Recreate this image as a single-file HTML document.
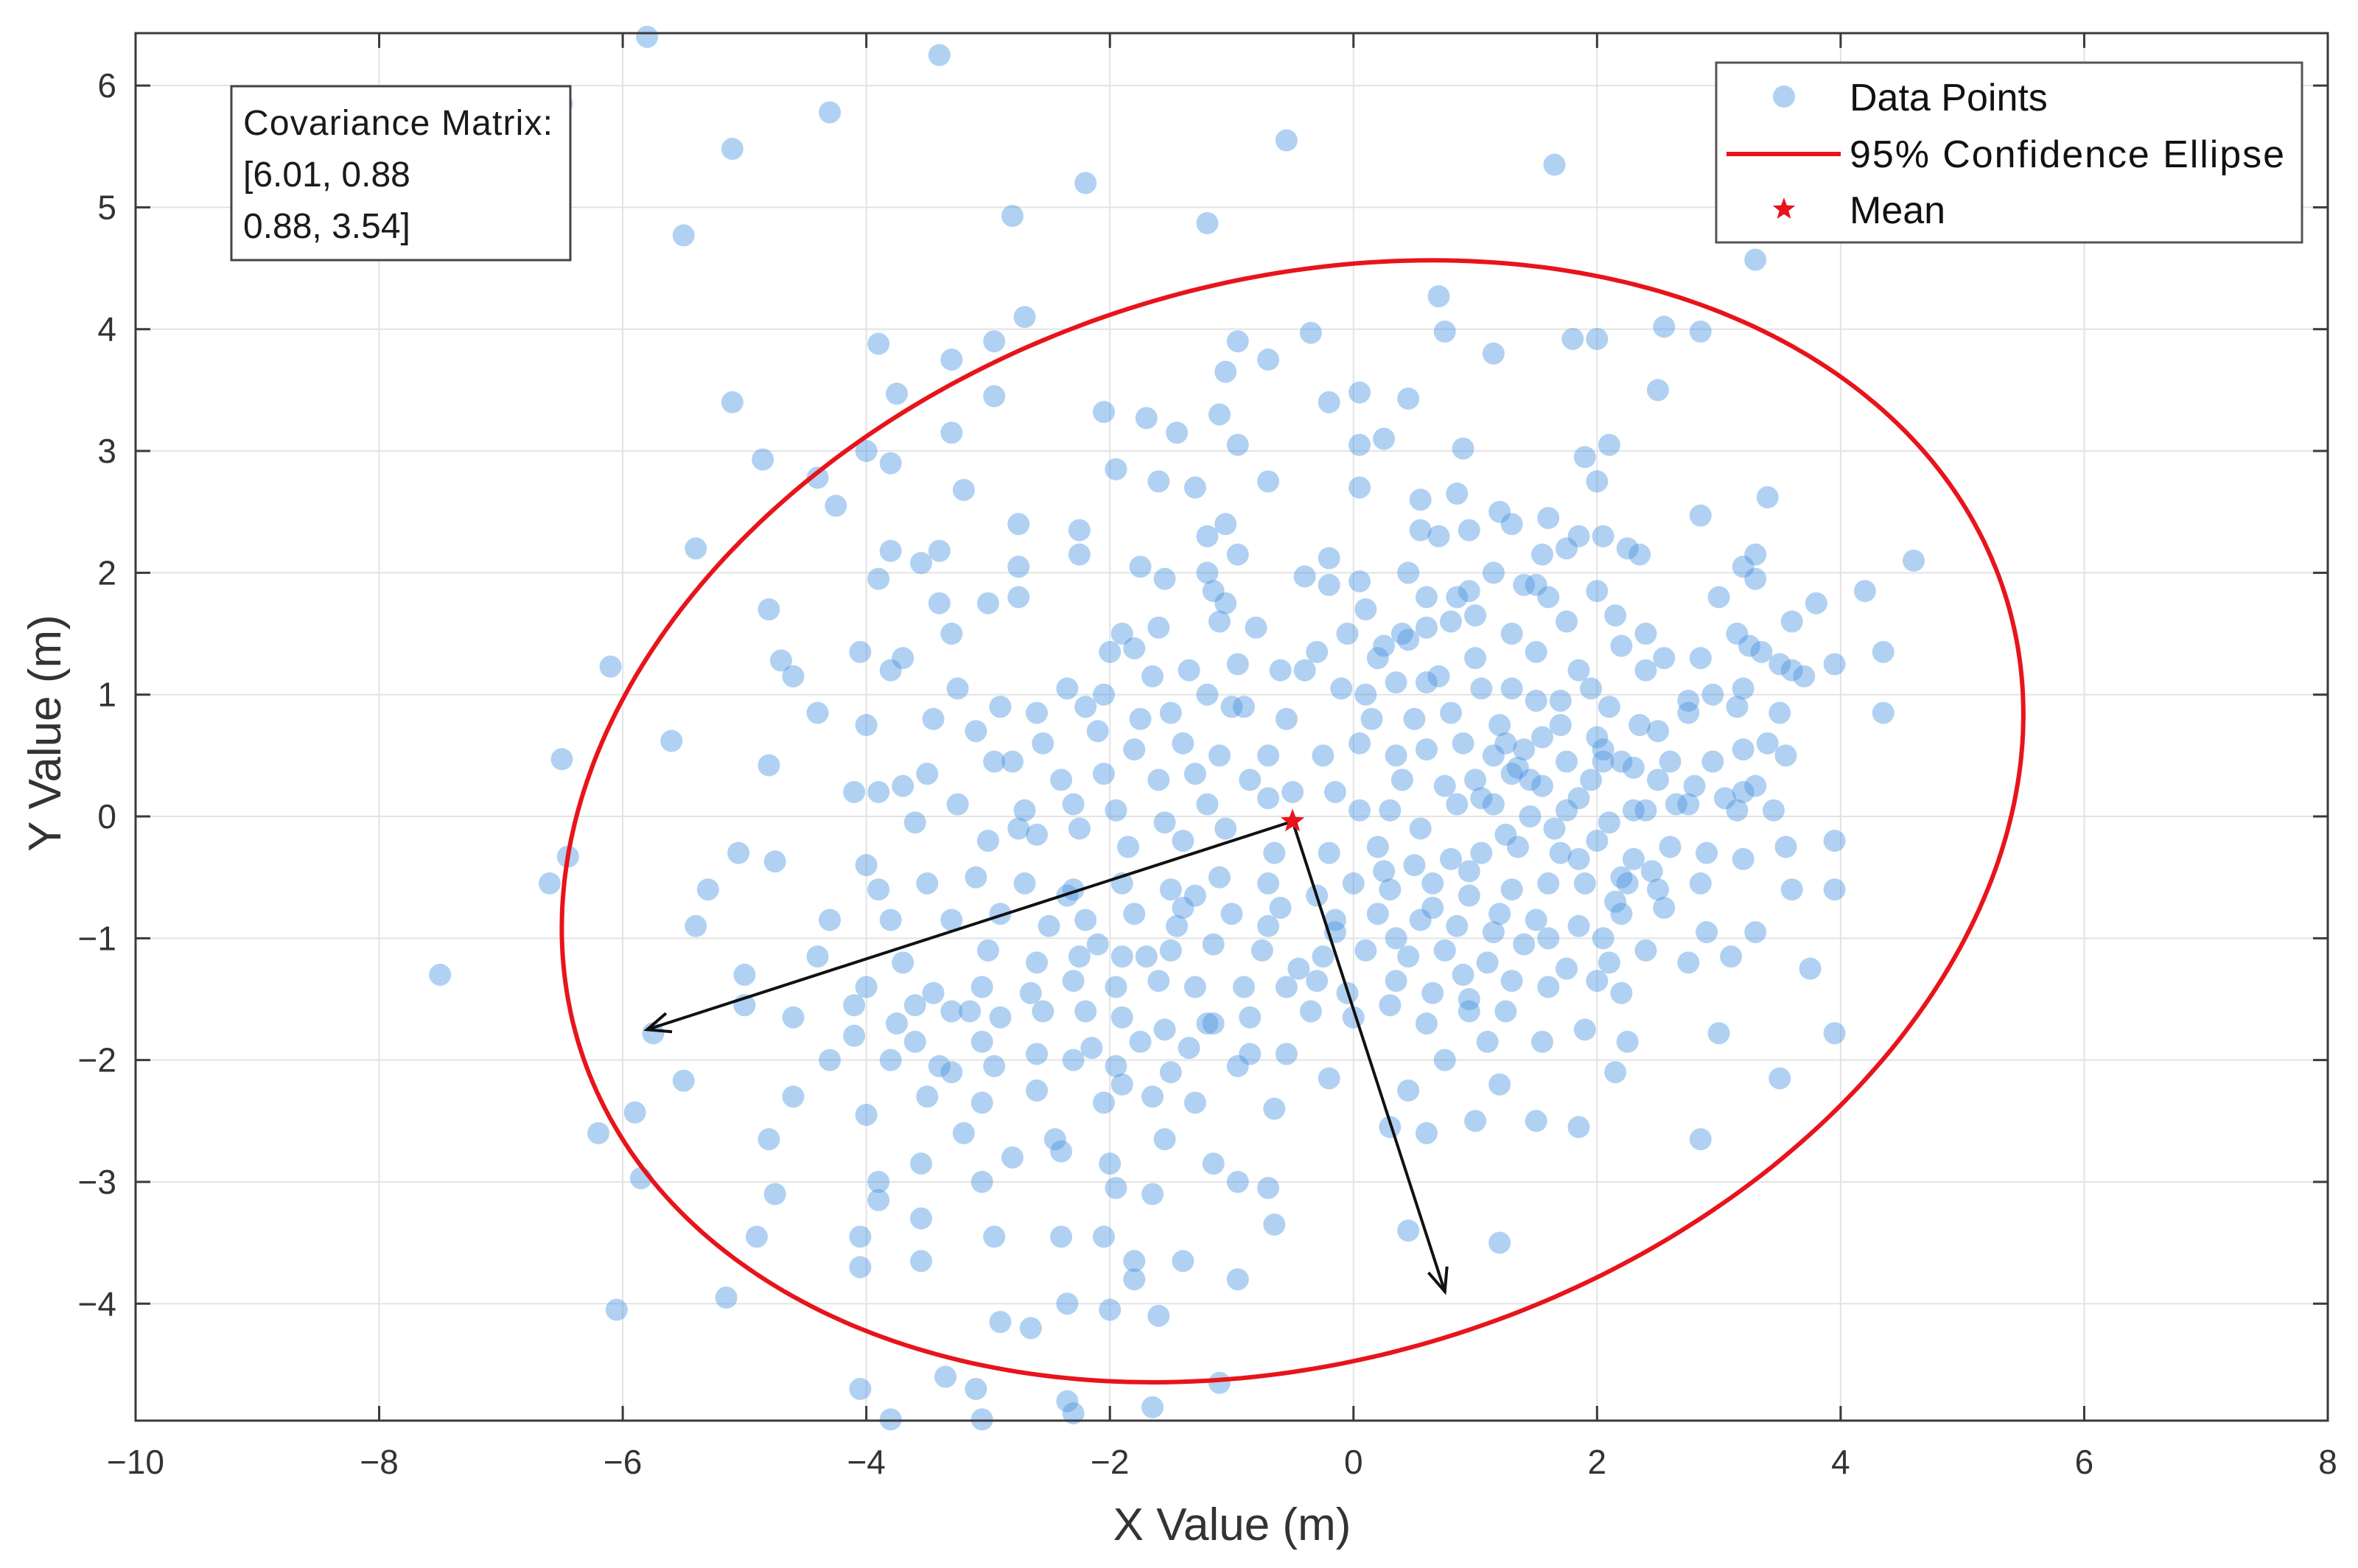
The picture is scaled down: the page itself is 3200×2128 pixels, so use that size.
<!DOCTYPE html>
<html><head><meta charset="utf-8"><style>
html,body{margin:0;padding:0;background:#fff;}
svg{display:block;font-family:"Liberation Sans",Arial,sans-serif;}
</style></head>
<body>
<svg id="chart" width="3200" height="2128" viewBox="0 0 3200 2128" xmlns="http://www.w3.org/2000/svg">
<rect x="0" y="0" width="3200" height="2128" fill="#fff"/>
<g id="grid"></g>
<g id="points"></g>
<g id="overlay"></g>
<g id="axes"></g>
<g id="annot"></g>
</svg>
<script>
const xTicks=[-10,-8,-6,-4,-2,0,2,4,6,8];
const yTicks=[-4,-3,-2,-1,0,1,2,3,4,5,6];
const meanPt=[-0.5,-0.04];
const covMatrix=[[6.01,0.88],[0.88,3.54]];
const chi2Val=5.991;
const vecEnds=[[-5.8,-1.75],[0.75,-3.9]];
const ptX=[-5.8,-3.4,-4.3,-6.5,-5.1,-0.55,-2.2,1.65,-5.5,-1.2,-2.8,3.3,0.7,-2.7,-3.9,-0.95,-0.35,0.75,1.15,1.8,2.0,2.55,2.85,-3.3,-2.95,-0.7,-1.05,-3.75,-5.1,-2.95,-0.2,0.05,0.45,2.5,-2.05,-1.7,-1.45,-1.1,-3.3,-4.0,-0.95,0.05,0.25,0.9,1.9,2.1,-4.85,-3.8,-1.95,-1.6,-1.3,-0.7,0.05,2.0,-4.4,-3.2,-4.25,0.85,0.55,3.4,-2.75,-2.25,-1.2,-1.05,0.55,0.7,1.2,1.3,1.6,1.85,2.05,2.85,-5.4,-3.8,-3.4,-2.25,-0.95,-0.2,1.55,1.75,2.25,2.35,3.3,4.6,-3.55,-2.75,-1.75,-1.2,-0.4,0.05,1.15,1.4,3.2,3.3,-3.9,-1.55,-0.2,-4.8,-3.4,-3.0,-2.75,-1.15,-0.8,0.6,0.85,0.95,1.6,2.0,3.0,3.6,3.8,4.2,-1.9,-1.6,-1.05,0.1,0.4,0.6,0.8,1.0,1.3,1.75,2.4,3.15,3.35,-3.3,-2.0,-1.8,-1.1,-0.3,0.25,0.45,1.0,1.5,1.85,2.2,2.55,2.85,3.25,3.5,3.7,3.95,4.35,-6.1,-4.7,-4.05,-3.7,-3.8,-2.35,-2.05,-1.65,-1.35,-1.2,-0.95,-0.6,-0.1,0.1,0.35,0.7,1.05,1.3,1.5,1.95,2.1,2.4,2.75,2.95,3.2,3.6,-4.6,-4.4,-3.25,-2.9,-2.6,-2.2,-1.75,-1.5,-0.9,-0.55,0.15,0.5,0.8,1.2,1.7,2.0,2.5,2.75,3.15,3.5,4.35,-5.6,-4.0,-3.45,-3.1,-2.95,-2.55,-2.1,-1.8,-1.4,-1.1,-0.7,-0.25,0.05,0.35,0.6,0.9,1.15,1.4,1.75,2.05,2.3,2.6,2.95,3.2,3.4,3.55,-6.5,-4.8,-3.5,-2.8,-2.4,-2.05,-1.6,-1.3,-0.85,-0.5,-0.15,0.4,0.75,1.0,1.3,1.55,1.95,2.2,2.5,3.05,3.3,-4.1,-3.9,-3.7,-3.25,-2.7,-2.3,-1.95,-1.55,-1.2,-0.7,0.05,0.3,0.55,0.85,1.15,1.45,1.75,2.1,2.4,2.75,3.15,3.45,-6.45,-5.05,-4.75,-4.0,-3.6,-3.0,-2.6,-2.25,-1.85,-1.4,-1.05,-0.65,-0.2,0.2,0.5,0.8,1.05,1.35,1.7,2.0,2.3,2.6,2.9,3.2,3.55,3.95,-6.6,-5.3,-3.9,-3.5,-3.1,-2.7,-2.3,-1.9,-1.5,-1.1,-0.7,-0.3,0.0,0.3,0.65,0.95,1.3,1.6,1.9,2.2,2.5,2.85,3.6,3.95,-5.4,-4.3,-3.8,-3.3,-2.9,-2.5,-2.2,-1.8,-1.4,-1.0,-0.6,-0.15,0.2,0.55,0.85,1.2,1.5,1.85,2.2,2.55,2.9,3.3,-4.4,-3.7,-3.0,-2.6,-2.25,-1.9,-1.5,-1.15,-0.75,-0.25,0.1,0.45,0.75,1.1,1.4,1.75,2.1,2.4,2.75,3.1,3.75,-7.5,-5.0,-4.0,-3.45,-3.05,-2.65,-2.3,-1.95,-1.6,-1.3,-0.9,-0.55,-0.05,0.35,0.65,0.95,1.3,1.6,2.0,2.2,-5.0,-4.6,-4.1,-3.75,-3.3,-2.9,-2.55,-2.2,-1.9,-1.55,-1.15,-0.85,-0.35,0.0,0.3,0.6,0.95,1.25,1.55,1.9,2.25,3.0,3.95,-5.75,-4.1,-3.6,-3.05,-2.6,-2.15,-1.75,-1.35,-0.95,-0.55,-4.3,-3.8,-3.3,-2.95,-2.3,-1.95,-1.5,-0.2,0.75,1.1,2.15,-5.5,-4.6,-4.0,-3.5,-3.05,-2.6,-2.05,-1.65,-1.3,-0.65,0.45,1.2,3.5,-6.2,-5.9,-4.8,-3.2,-2.8,-2.4,-2.0,-1.55,-1.15,0.3,0.6,1.0,1.5,1.85,2.85,-5.85,-4.75,-3.9,-3.55,-3.05,-1.95,-1.65,-0.7,-3.9,-3.55,-2.95,-2.4,-2.05,-0.95,-4.05,-0.65,-4.9,1.2,0.45,-4.05,-3.55,-1.8,-1.4,-0.95,-1.8,-5.15,-6.05,-2.35,-2.0,-1.6,-2.9,-2.65,-1.1,-4.05,-2.35,-1.65,-3.1,-3.35,-3.8,-3.05,-2.3,2.05,1.6,-0.7,
1.35,1.45,1.05,1.25,0.95,1.65,1.85,2.3,2.45,2.15,1.15,0.65,0.35,0.9,1.55,2.05,2.65,2.25,1.85,0.25,-0.15,-0.3,-1.3,-1.7,-1.45,-1.2,-0.85,-0.45,-2.35,-2.75,-3.15,-2.1,-1.9,-2.45,-3.4,-3.6,-1.0,-0.4,0.2,0.6,1.25,1.7,2.35,2.8,3.2,2.15,1.5,0.95,0.45,-0.05];
const ptY=[6.4,6.25,5.78,5.85,5.48,5.55,5.2,5.35,4.77,4.87,4.93,4.57,4.27,4.1,3.88,3.9,3.97,3.98,3.8,3.92,3.92,4.02,3.98,3.75,3.9,3.75,3.65,3.47,3.4,3.45,3.4,3.48,3.43,3.5,3.32,3.27,3.15,3.3,3.15,3.0,3.05,3.05,3.1,3.02,2.95,3.05,2.93,2.9,2.85,2.75,2.7,2.75,2.7,2.75,2.78,2.68,2.55,2.65,2.6,2.62,2.4,2.35,2.3,2.4,2.35,2.3,2.5,2.4,2.45,2.3,2.3,2.47,2.2,2.18,2.18,2.15,2.15,2.12,2.15,2.2,2.2,2.15,2.15,2.1,2.08,2.05,2.05,2.0,1.97,1.93,2.0,1.9,2.05,1.95,1.95,1.95,1.9,1.7,1.75,1.75,1.8,1.85,1.55,1.8,1.8,1.85,1.8,1.85,1.8,1.6,1.75,1.85,1.5,1.55,1.75,1.7,1.5,1.55,1.6,1.65,1.5,1.6,1.5,1.5,1.35,1.5,1.35,1.38,1.6,1.35,1.4,1.45,1.3,1.35,1.2,1.4,1.3,1.3,1.4,1.25,1.15,1.25,1.35,1.23,1.28,1.35,1.3,1.2,1.05,1.0,1.15,1.2,1.0,1.25,1.2,1.05,1.0,1.1,1.15,1.05,1.05,0.95,1.05,0.9,1.2,0.95,1.0,1.05,1.2,1.15,0.85,1.05,0.9,0.85,0.9,0.8,0.85,0.9,0.8,0.8,0.8,0.85,0.75,0.75,0.65,0.7,0.85,0.9,0.85,0.85,0.62,0.75,0.8,0.7,0.45,0.6,0.7,0.55,0.6,0.5,0.5,0.5,0.6,0.5,0.55,0.6,0.5,0.55,0.45,0.55,0.4,0.45,0.45,0.55,0.6,0.5,0.47,0.42,0.35,0.45,0.3,0.35,0.3,0.35,0.3,0.2,0.2,0.3,0.25,0.3,0.35,0.25,0.3,0.45,0.3,0.15,0.25,0.2,0.2,0.25,0.1,0.05,0.1,0.05,-0.05,0.1,0.15,0.05,0.05,-0.1,0.1,0.1,0.0,0.05,-0.05,0.05,0.1,0.05,0.05,-0.33,-0.3,-0.37,-0.4,-0.05,-0.2,-0.15,-0.1,-0.25,-0.2,-0.1,-0.3,-0.3,-0.25,-0.4,-0.35,-0.3,-0.25,-0.3,-0.2,-0.35,-0.25,-0.3,-0.35,-0.25,-0.2,-0.55,-0.6,-0.6,-0.55,-0.5,-0.55,-0.6,-0.55,-0.6,-0.5,-0.55,-0.65,-0.55,-0.6,-0.55,-0.65,-0.6,-0.55,-0.55,-0.5,-0.6,-0.55,-0.6,-0.6,-0.9,-0.85,-0.85,-0.85,-0.8,-0.9,-0.85,-0.8,-0.75,-0.8,-0.75,-0.85,-0.8,-0.85,-0.9,-0.8,-0.85,-0.9,-0.8,-0.75,-0.95,-0.95,-1.15,-1.2,-1.1,-1.2,-1.15,-1.15,-1.1,-1.05,-1.1,-1.15,-1.1,-1.15,-1.1,-1.2,-1.05,-1.25,-1.2,-1.1,-1.2,-1.15,-1.25,-1.3,-1.3,-1.4,-1.45,-1.4,-1.45,-1.35,-1.4,-1.35,-1.4,-1.4,-1.4,-1.45,-1.35,-1.45,-1.5,-1.35,-1.4,-1.35,-1.45,-1.55,-1.65,-1.55,-1.7,-1.6,-1.65,-1.6,-1.6,-1.65,-1.75,-1.7,-1.65,-1.6,-1.65,-1.55,-1.7,-1.6,-1.6,-1.85,-1.75,-1.85,-1.78,-1.78,-1.78,-1.8,-1.85,-1.85,-1.95,-1.9,-1.85,-1.9,-2.05,-1.95,-2.0,-2.0,-2.1,-2.05,-2.0,-2.05,-2.1,-2.15,-2.0,-1.85,-2.1,-2.17,-2.3,-2.45,-2.3,-2.35,-2.25,-2.35,-2.3,-2.35,-2.4,-2.25,-2.2,-2.15,-2.6,-2.43,-2.65,-2.6,-2.8,-2.75,-2.85,-2.65,-2.85,-2.55,-2.6,-2.5,-2.5,-2.55,-2.65,-2.97,-3.1,-3.0,-2.85,-3.0,-3.05,-3.1,-3.05,-3.15,-3.3,-3.45,-3.45,-3.45,-3.0,-3.45,-3.35,-3.45,-3.5,-3.4,-3.7,-3.65,-3.65,-3.65,-3.8,-3.8,-3.95,-4.05,-4.0,-4.05,-4.1,-4.15,-4.2,-4.65,-4.7,-4.8,-4.85,-4.7,-4.6,-4.95,-4.95,-4.9,-1.0,-1.0,-0.9,
0.4,0.3,0.15,-0.15,-0.45,-0.1,0.15,0.05,-0.45,-0.7,-0.95,-0.75,-1.0,-1.3,0.65,0.45,0.1,-0.55,-0.35,-0.45,-0.95,-1.35,-0.65,-1.15,-0.9,-1.7,-1.95,-1.25,-0.65,-0.1,-1.6,-1.05,-2.2,-2.65,-2.05,-1.55,0.9,1.2,1.3,1.1,0.6,0.95,0.75,0.25,0.2,1.65,1.9,2.35,2.0,1.5];

const NS='http://www.w3.org/2000/svg';
const PL=184,PR=3159,PT=45,PB=1928;
const XMIN=-10,XMAX=8,YMIN=-4.96,YMAX=6.43;
const sx=v=>PL+(v-XMIN)/(XMAX-XMIN)*(PR-PL);
const sy=v=>PB-(v-YMIN)/(YMAX-YMIN)*(PB-PT);
function mk(tag,attrs,parent){const e=document.createElementNS(NS,tag);for(const k in attrs)e.setAttribute(k,attrs[k]);parent.appendChild(e);return e;}
const grid=document.getElementById('grid'),pts=document.getElementById('points'),ov=document.getElementById('overlay'),ax=document.getElementById('axes'),an=document.getElementById('annot');

xTicks.forEach(t=>{
  const l=mk('line',{x1:sx(t),x2:sx(t),y1:PT,y2:PB,stroke:'#e3e3e3','stroke-width':2},grid);
  
  
});
yTicks.forEach(t=>{
  const l=mk('line',{x1:PL,x2:PR,y1:sy(t),y2:sy(t),stroke:'#e3e3e3','stroke-width':2},grid);
  
  
});

for(let i=0;i<Math.min(ptX.length,ptY.length);i++){
  const c=mk('circle',{cx:sx(ptX[i]),cy:sy(ptY[i]),r:15,fill:'rgb(70,145,225)','fill-opacity':0.42},pts);
  
  
}

const a=covMatrix[0][0],b=covMatrix[0][1],d=covMatrix[1][1];
const tr=a+d,det=a*d-b*b,disc=Math.sqrt(tr*tr/4-det);
const l1=tr/2+disc,l2=tr/2-disc;
const ang=Math.atan2(l1-a,b);
const r1=Math.sqrt(chi2Val*l1),r2=Math.sqrt(chi2Val*l2);
let dstr='';
for(let k=0;k<=360;k++){
  const t=k*Math.PI/180;
  const ex=r1*Math.cos(t),ey=r2*Math.sin(t);
  const X=meanPt[0]+ex*Math.cos(ang)-ey*Math.sin(ang);
  const Y=meanPt[1]+ex*Math.sin(ang)+ey*Math.cos(ang);
  dstr+=(k?'L':'M')+sx(X).toFixed(1)+','+sy(Y).toFixed(1);
}
const ell=mk('path',{d:dstr+'Z',fill:'none',stroke:'#e8141b','stroke-width':6},ov);



vecEnds.forEach(v=>{
  const x0=sx(meanPt[0]),y0=sy(meanPt[1]),x1=sx(v[0]),y1=sy(v[1]);
  const ln=mk('line',{x1:x0,y1:y0,x2:x1,y2:y1,stroke:'#111','stroke-width':4},ov);
  
  
  const th=Math.atan2(y1-y0,x1-x0),L=34,w=0.4;
  const hd=mk('path',{d:`M${x1-L*Math.cos(th-w)},${y1-L*Math.sin(th-w)}L${x1},${y1}L${x1-L*Math.cos(th+w)},${y1-L*Math.sin(th+w)}`,fill:'none',stroke:'#111','stroke-width':4},ov);
  
  
});

function star(cx,cy,R,parent){
  let p='';for(let i=0;i<10;i++){const rr=i%2?R*0.42:R;const t=-Math.PI/2+i*Math.PI/5;p+=(i?'L':'M')+(cx+rr*Math.cos(t)).toFixed(1)+','+(cy+rr*Math.sin(t)).toFixed(1);}
  return mk('path',{d:p+'Z',fill:'#e8141b'},parent);
}
const ms=star(sx(meanPt[0]),sy(meanPt[1]),17,ov);



const fr=mk('rect',{x:PL,y:PT,width:PR-PL,height:PB-PT,fill:'none',stroke:'#3a3a3a','stroke-width':3},ax);


xTicks.forEach(t=>{
  mk('line',{x1:sx(t),x2:sx(t),y1:PB,y2:PB-20,stroke:'#3a3a3a','stroke-width':3},ax);
  mk('line',{x1:sx(t),x2:sx(t),y1:PT,y2:PT+20,stroke:'#3a3a3a','stroke-width':3},ax);
  const tx=mk('text',{x:sx(t),y:2000,'text-anchor':'middle','font-size':46,fill:'#333'},ax);
  tx.textContent=(t<0?'\u2212':'')+Math.abs(t);
  
  
});
yTicks.forEach(t=>{
  mk('line',{x1:PL,x2:PL+20,y1:sy(t),y2:sy(t),stroke:'#3a3a3a','stroke-width':3},ax);
  mk('line',{x1:PR,x2:PR-20,y1:sy(t),y2:sy(t),stroke:'#3a3a3a','stroke-width':3},ax);
  const tx=mk('text',{x:158,y:sy(t)+16,'text-anchor':'end','font-size':46,fill:'#333'},ax);
  tx.textContent=(t<0?'\u2212':'')+Math.abs(t);
  
  
});
const xl=mk('text',{x:1672,y:2090,'text-anchor':'middle','font-size':62,fill:'#333'},ax);
xl.textContent='X Value (m)';


const yl=mk('text',{x:0,y:0,'text-anchor':'middle','font-size':62,fill:'#333',transform:'translate(82,995) rotate(-90)'},ax);
yl.textContent='Y Value (m)';



const cb=mk('rect',{x:314,y:117,width:460,height:236,fill:'#fff',stroke:'#444','stroke-width':3},an);


['Covariance Matrix:','[6.01, 0.88','0.88, 3.54]'].forEach((s,i)=>{
  const t=mk('text',{x:330,y:183+i*70,'font-size':48,fill:'#1a1a1a',textLength:(i==0?420:null)},an);
  if(i!=0)t.removeAttribute('textLength');
  t.textContent=s;
  
  
});

const lg=mk('rect',{x:2329,y:85,width:795,height:244,fill:'#fff',stroke:'#555','stroke-width':3},an);


const ld=mk('circle',{cx:2421,cy:131,r:15,fill:'rgb(70,145,225)','fill-opacity':0.42},an);


const ll=mk('line',{x1:2343,x2:2498,y1:209,y2:209,stroke:'#e8141b','stroke-width':6},an);


const lst=star(2421,284,16,an);


[['Data Points',150,null],['95% Confidence Ellipse',227,590],['Mean',303,null]].forEach(([s,y,tl])=>{
  const t=mk('text',{x:2510,y:y,'font-size':52,fill:'#111'},an);
  if(tl)t.setAttribute('textLength',tl);
  t.textContent=s;
  
  
});
</script>
</body></html>
